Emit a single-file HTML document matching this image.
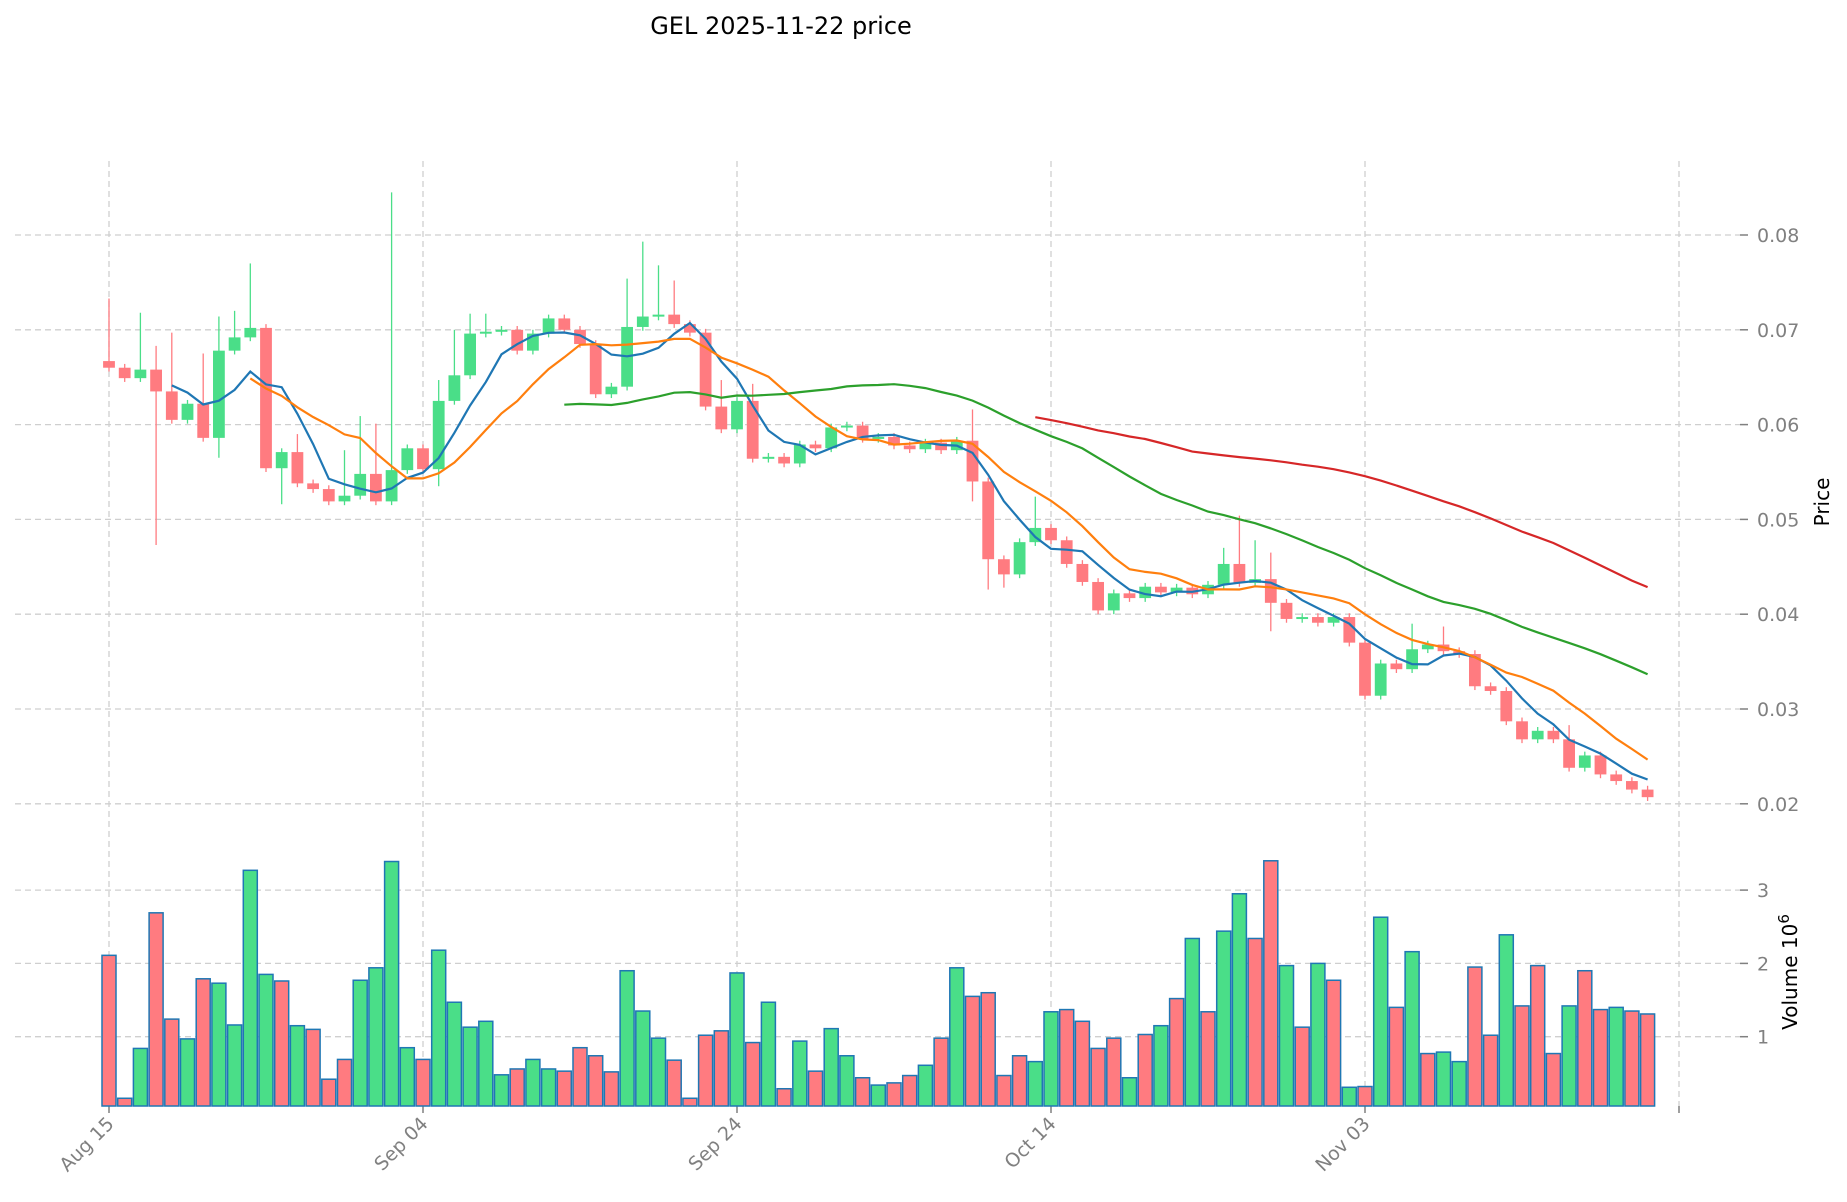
<!DOCTYPE html>
<html><head><meta charset="utf-8"><style>
html,body{margin:0;padding:0;background:#fff;}
svg{display:block;font-family:"DejaVu Sans","Liberation Sans",sans-serif;}
</style></head><body>
<svg id="c" width="1847" height="1202" xmlns="http://www.w3.org/2000/svg">
<text x="781" y="34" font-size="24" text-anchor="middle" fill="#000">GEL  2025-11-22  price</text>
<g id="g"></g>
<text transform="translate(1829,502) rotate(-90)" font-size="20" text-anchor="middle" fill="#000">Price</text>
<text transform="translate(1797,972) rotate(-90)" font-size="20" text-anchor="middle" fill="#000">Volume  10<tspan dy="-8" font-size="15">6</tspan></text>
</svg>
<script>
var C=[.066,.0649,.0658,.0635,.0605,.0622,.0586,.0678,.0692,.0702,.0554,.0571,.0538,.0532,.0519,.0525,.0548,.0519,.0552,.0575,.0553,.0625,.0652,.0696,.0698,.07,.0678,.0696,.0712,.07,.0685,.0632,.064,.0703,.0714,.0716,.0706,.0697,.0619,.0595,.0625,.0564,.0566,.0559,.0579,.0575,.0597,.0599,.0585,.0587,.0578,.0574,.0581,.0573,.0583,.054,.0458,.0442,.0476,.0491,.0478,.0453,.0434,.0404,.0422,.0417,.0429,.0423,.0428,.0421,.0431,.0453,.0433,.0437,.0412,.0395,.0397,.0391,.0397,.037,.0314,.0348,.0342,.0363,.0368,.0361,.0358,.0324,.0319,.0287,.0268,.0277,.0268,.0238,.0251,.0231,.0224,.0215,.0207];
var O=[.0667];for(var i=1;i<C.length;i++)O.push(C[i-1]);
O[0]=.0667;
var V=[2.11,.16,.84,2.69,1.24,.97,1.79,1.73,1.16,3.27,1.85,1.76,1.15,1.1,.42,.69,1.77,1.94,3.39,.85,.69,2.18,1.47,1.13,1.21,.48,.56,.69,.56,.53,.85,.74,.52,1.9,1.35,.98,.68,.16,1.02,1.08,1.87,.92,1.47,.29,.94,.53,1.11,.74,.44,.34,.37,.47,.61,.98,1.94,1.55,1.6,.47,.74,.66,1.34,1.37,1.21,.84,.98,.44,1.03,1.15,1.52,2.34,1.34,2.44,2.95,2.34,3.4,1.97,1.13,2.0,1.77,.31,.32,2.63,1.4,2.16,.77,.79,.66,1.95,1.02,2.39,1.42,1.97,.77,1.42,1.9,1.37,1.4,1.35,1.31];
var VC="rrgrrgrggggrgrrrggggrgggggrggrrrrgggrrrrgrgrgrggrgrrgrgrrrrggrrrrgrgrgrggrrgrgrgrgrgrggrrgrrrgrrgrrr";
var H={0:.0733,2:.0718,3:.0683,4:.0697,6:.0675,7:.0714,8:.072,9:.077,12:.059,15:.0573,16:.0609,17:.0601,18:.0845,21:.0647,22:.07,23:.0717,24:.0717,33:.0754,34:.0793,35:.0768,36:.0752,39:.0647,41:.0643,55:.0616,59:.0524,71:.047,72:.0504,73:.0478,74:.0465,83:.039,85:.0387,93:.0283};
var L={3:.0473,7:.0565,11:.0516,21:.0535,55:.0519,56:.0426,57:.0428,74:.0382};
function X(i){return 109+15.7*i}
function Y(p){return 235+(0.08-p)*9480}
function VY(v){return 1110-v*73.3}
var s='';
for(var k=2;k<=8;k++){var y=Y(k/100);s+='<line x1="15" x2="1740" y1="'+y+'" y2="'+y+'" stroke="#cfcfcf" stroke-width="1.3" stroke-dasharray="6,4"/>';
s+='<line x1="1740" x2="1748" y1="'+y+'" y2="'+y+'" stroke="#808080" stroke-width="1.5"/><text x="1757" y="'+(y+7)+'" font-size="19" fill="#808080">0.0'+k+'</text>';}
for(var k=1;k<=3;k++){var y=VY(k);s+='<line x1="15" x2="1740" y1="'+y+'" y2="'+y+'" stroke="#cfcfcf" stroke-width="1.3" stroke-dasharray="6,4"/>';
s+='<line x1="1740" x2="1748" y1="'+y+'" y2="'+y+'" stroke="#808080" stroke-width="1.5"/><text x="1757" y="'+(y+7)+'" font-size="19" fill="#808080">'+k+'</text>';}
var ticks=[[0,'Aug 15'],[20,'Sep 04'],[40,'Sep 24'],[60,'Oct 14'],[80,'Nov 03'],[100,'']];
ticks.forEach(function(t){var x=X(t[0]);s+='<line x1="'+x+'" x2="'+x+'" y1="161" y2="1106" stroke="#cfcfcf" stroke-width="1.3" stroke-dasharray="6,4"/>';
s+='<line x1="'+x+'" x2="'+x+'" y1="1106" y2="1113" stroke="#808080" stroke-width="1.5"/>';
if(t[1])s+='<text transform="translate('+(x+6)+',1125) rotate(-45)" font-size="19" text-anchor="end" fill="#808080">'+t[1]+'</text>';});
for(var i=0;i<V.length;i++){var y=VY(V[i]);var col=VC[i]=='g'?'#4ade88':'#ff7b80';
s+='<rect x="'+(X(i)-7)+'" y="'+y+'" width="14" height="'+(1106-y)+'" fill="'+col+'" stroke="#1f77b4" stroke-width="1.5"/>';}
for(var i=0;i<C.length;i++){var o=O[i],c=C[i],up=c>=o,col=up?'#4ade88':'#ff7b80';
var hi=H[i]||Math.max(o,c)+0.0004,lo=L[i]||Math.min(o,c)-0.0004;
s+='<line x1="'+X(i)+'" x2="'+X(i)+'" y1="'+Y(hi)+'" y2="'+Y(lo)+'" stroke="'+col+'" stroke-width="1.3"/>';
var t=Y(Math.max(o,c)),b=Y(Math.min(o,c));if(b-t<2){b=t+2}
s+='<rect x="'+(X(i)-5.9)+'" y="'+t+'" width="11.8" height="'+(b-t)+'" fill="'+col+'"/>';}
function ma(n,col){var pts=[];for(var i=n-1;i<C.length;i++){var sm=0;for(var j=i-n+1;j<=i;j++)sm+=C[j];pts.push(X(i).toFixed(1)+','+Y(sm/n).toFixed(1));}
s+='<polyline points="'+pts.join(' ')+'" fill="none" stroke="'+col+'" stroke-width="2.2"/>';}
ma(5,'#1f77b4');ma(10,'#ff7f0e');ma(30,'#2ca02c');ma(60,'#d62728');
document.getElementById('g').innerHTML=s;
</script>
</body></html>
